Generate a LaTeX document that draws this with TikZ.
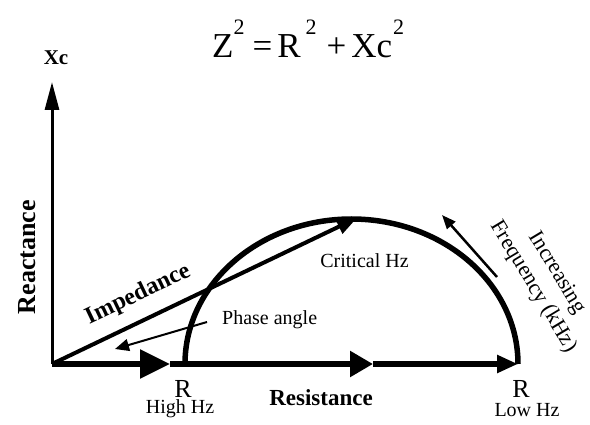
\documentclass[tikz,border=0pt]{standalone}
\usepackage{fontspec}
\setmainfont{Liberation Serif}
\usetikzlibrary{arrows.meta}
\newcommand\tsup{\raisebox{23pt}{\fontsize{22}{22}\selectfont 2}}
\tikzset{
  lbl/.style={inner sep=0pt, font=\fontsize{20}{20}\selectfont},
  blbl/.style={inner sep=0pt, font=\fontsize{23}{23}\selectfont\bfseries},
  rlbl/.style={inner sep=0pt, anchor=base, font=\fontsize{26}{26}\selectfont},
  thickline/.style={line width=5.5pt},
  thinarrow/.style={line width=2pt, -{Triangle[length=14pt,width=12pt]}},
}
\begin{document}
\begin{tikzpicture}[x=1pt,y=1pt]
\useasboundingbox (0,0) rectangle (590,424);
% coordinates
\coordinate (O) at (52,60);
\coordinate (top) at (52,342);
\coordinate (A1) at (170,60);
\coordinate (RH) at (185,60);
\coordinate (A2) at (373,60);
\coordinate (RL) at (518,60);
\coordinate (imp) at (357,206);
\coordinate (phs) at (207,102);
\coordinate (pht) at (115,75);
\coordinate (fs) at (497,147);
\coordinate (ft) at (442,209);
% title
\node[anchor=base west, inner sep=0pt] (title) at (212,366)
  {\fontsize{35}{35}\selectfont Z\tsup\hspace{8pt}=\hspace{5pt}R\hspace{5pt}\tsup\hspace{10pt}+\hspace{5pt}Xc\hspace{1pt}\tsup};
% axes
\draw[line width=3pt, -{Triangle[length=28pt,width=14pt]}] (O) -- (top);
\node[inner sep=0pt, font=\fontsize{21}{21}\selectfont\bfseries] (xc) at (56,366) {Xc};
% semicircle
\draw[thickline] (RH) arc[start angle=180, end angle=0, x radius=166.5pt, y radius=145pt];
% resistance axis with arrows
\draw[thickline, -{Triangle[length=30pt,width=28pt]}] (O) -- (A1);
\draw[thickline, -{Triangle[length=23pt,width=25pt]}] (A1) -- (A2);
\draw[thickline, -{Triangle[length=21pt,width=17pt]}] (A2) -- (RL);
% impedance
\draw[line width=4pt, -{Triangle[length=20pt,width=15pt]}] (O) -- (imp);
% phase angle arrow
\draw[thinarrow] (phs) -- (pht);
% frequency arrow
\draw[line width=2.5pt, -{Triangle[length=14pt,width=11pt]}] (fs) -- (ft);
% labels
\node[blbl, font=\fontsize{26}{26}\selectfont\bfseries, rotate=90] (react) at (27,167) {Reactance};
\node[blbl, font=\fontsize{24}{24}\selectfont\bfseries, rotate=25.5] (impl) at (138,129) {Impedance};
\node[lbl, anchor=west] (phl) at (222,104) {Phase angle};
\node[lbl] (crit) at (364.5,163) {Critical Hz};
\node[lbl, font=\fontsize{22}{22}\selectfont, align=center, rotate=-59] (freq) at (545,144)
  {Increasing\\[5pt]Frequency (kHz)};
\node[rlbl] (rh) at (183,27) {R};
\node[lbl, anchor=base] (hhz) at (180,11) {High Hz};
\node[blbl] (res) at (321,26) {Resistance};
\node[rlbl] (rl) at (521,27) {R};
\node[lbl, anchor=base] (lhz) at (527,8) {Low Hz};
\end{tikzpicture}
\end{document}
